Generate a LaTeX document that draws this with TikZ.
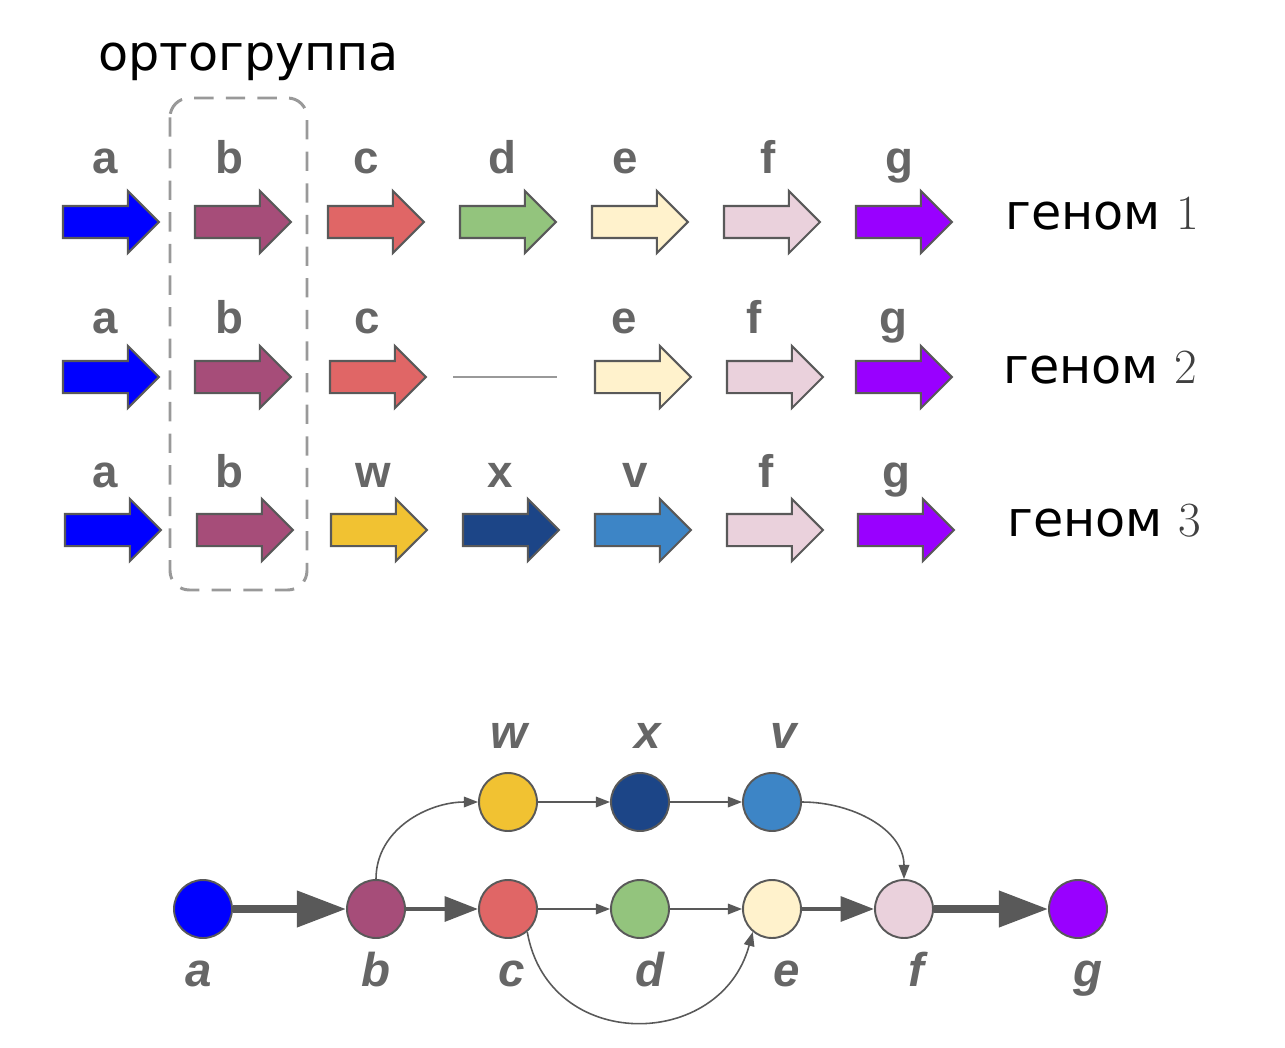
\documentclass[tikz,border=0pt]{standalone}
\usepackage{fontspec}
\setsansfont{Liberation Sans}
\newfontfamily\cyrfont{DejaVu Sans}
\usetikzlibrary{arrows.meta,shapes.arrows}
\definecolor{outline}{HTML}{595959}
\definecolor{labelgray}{HTML}{666666}
\definecolor{boxgray}{HTML}{999999}
\definecolor{geneA}{HTML}{0000FF}
\definecolor{geneB}{HTML}{A64D79}
\definecolor{geneC}{HTML}{E06666}
\definecolor{geneD}{HTML}{93C47D}
\definecolor{geneE}{HTML}{FFF2CC}
\definecolor{geneF}{HTML}{EAD1DC}
\definecolor{geneG}{HTML}{9900FF}
\definecolor{geneW}{HTML}{F1C232}
\definecolor{geneX}{HTML}{1C4587}
\definecolor{geneV}{HTML}{3D85C6}

\begin{document}
\begin{tikzpicture}[x=0.02cm,y=0.02cm,
    gene/.style={single arrow,draw=outline,line width=1.2pt,minimum height=1.92cm,
      single arrow head extend=0.3cm,single arrow tip angle=90,
      inner xsep=0pt,inner ysep=0.3cm,outer sep=0pt,anchor=tail},
    gene label/.style={anchor=base,text=labelgray,font=\sffamily\bfseries\fontsize{26}{26}\selectfont},
    genome/.style={anchor=base west,font=\cyrfont\fontsize{28}{28}\selectfont},
    vertex/.style={circle,draw=outline,line width=1.1pt,minimum size=1.16cm,inner sep=0pt},
    vertex label/.style={anchor=base,text=labelgray,font=\sffamily\bfseries\itshape\fontsize{27}{27}\selectfont},
    heavy/.style={draw=outline,line width=4pt,-{Triangle[length=28pt,width=20pt]}},
    medium/.style={draw=outline,line width=2.5pt,-{Triangle[length=19pt,width=14pt]}},
    light/.style={draw=outline,line width=0.9pt,-{Triangle[length=8pt,width=6pt]}}]
  \useasboundingbox (0,0) rectangle (1285,-1048);

  % orthogroup box
  \node[genome] (title) at (92,-70) {ортогруппа};
  \draw[boxgray,line width=1.7pt,dash pattern=on 11pt off 7pt,rounded corners=11pt]
    (170,-98) rectangle (307,-590);

  % genome 1
  \foreach \n/\col/\x/\lx in {a/geneA/63/105, b/geneB/195/229, c/geneC/328/366,
      d/geneD/460/502, e/geneE/592/625, f/geneF/724/768, g/geneG/856/899} {
    \node[gene,fill=\col] (\n1) at (\x,-222) {};
    \node[gene label] (\n1lab) at (\lx,-173) {\n};
  }
  \node[genome] (genome1) at (999,-229) {геном {\rmfamily\color{black!75}1}};

  % genome 2
  \foreach \n/\col/\x/\lx in {a/geneA/63/105, b/geneB/195/229, c/geneC/330/367,
      e/geneE/595/624, f/geneF/727/754, g/geneG/856/893} {
    \node[gene,fill=\col] (\n2) at (\x,-377) {};
    \node[gene label] (\n2lab) at (\lx,-333) {\n};
  }
  \draw[boxgray,line width=1.2pt] (453,-377) -- (557,-377);
  \node[genome] (genome2) at (997,-383) {геном {\rmfamily\color{black!75}2}};

  % genome 3
  \foreach \n/\col/\x/\lx in {a/geneA/65/105, b/geneB/197/229, w/geneW/331/373,
      x/geneX/463/500, v/geneV/595/635, f/geneF/727/766, g/geneG/858/896} {
    \node[gene,fill=\col] (\n3) at (\x,-530) {};
    \node[gene label] (\n3lab) at (\lx,-487) {\n};
  }
  \node[genome] (genome3) at (1001,-536) {геном {\rmfamily\color{black!75}3}};

  % graph
  \node[vertex,fill=geneA] (ga) at (203,-909) {};
  \node[vertex,fill=geneB] (gb) at (376,-909) {};
  \node[vertex,fill=geneC] (gc) at (508,-909) {};
  \node[vertex,fill=geneD] (gd) at (640,-909) {};
  \node[vertex,fill=geneE] (ge) at (772,-909) {};
  \node[vertex,fill=geneF] (gf) at (904,-909) {};
  \node[vertex,fill=geneG] (gg) at (1078,-909) {};
  \node[vertex,fill=geneW] (gw) at (508,-802) {};
  \node[vertex,fill=geneX] (gx) at (640,-802) {};
  \node[vertex,fill=geneV] (gv) at (772,-802) {};

  \foreach \n/\x in {a/199, b/376, c/512, d/650, e/787, f/916, g/1088}
    \node[vertex label] (\n lab) at (\x,-986) {\n};
  \foreach \n/\x in {w/509, x/648, v/784}
    \node[vertex label] (\n lab) at (\x,-748) {\n};

  \draw[heavy] (ga) -- (gb);
  \draw[medium] (gb) -- (gc);
  \draw[light] (gc) -- (gd);
  \draw[light] (gd) -- (ge);
  \draw[medium] (ge) -- (gf);
  \draw[heavy] (gf) -- (gg);
  \draw[light] (gw) -- (gx);
  \draw[light] (gx) -- (gv);
  \draw[light] (gb.north) to[out=90,in=180] (gw);
  \draw[light] (gv) to[out=0,in=90] (gf);
  \draw[light] (gc.-50) to[out=-80,in=-105,looseness=1.4] (ge.-130);
\end{tikzpicture}
\end{document}
